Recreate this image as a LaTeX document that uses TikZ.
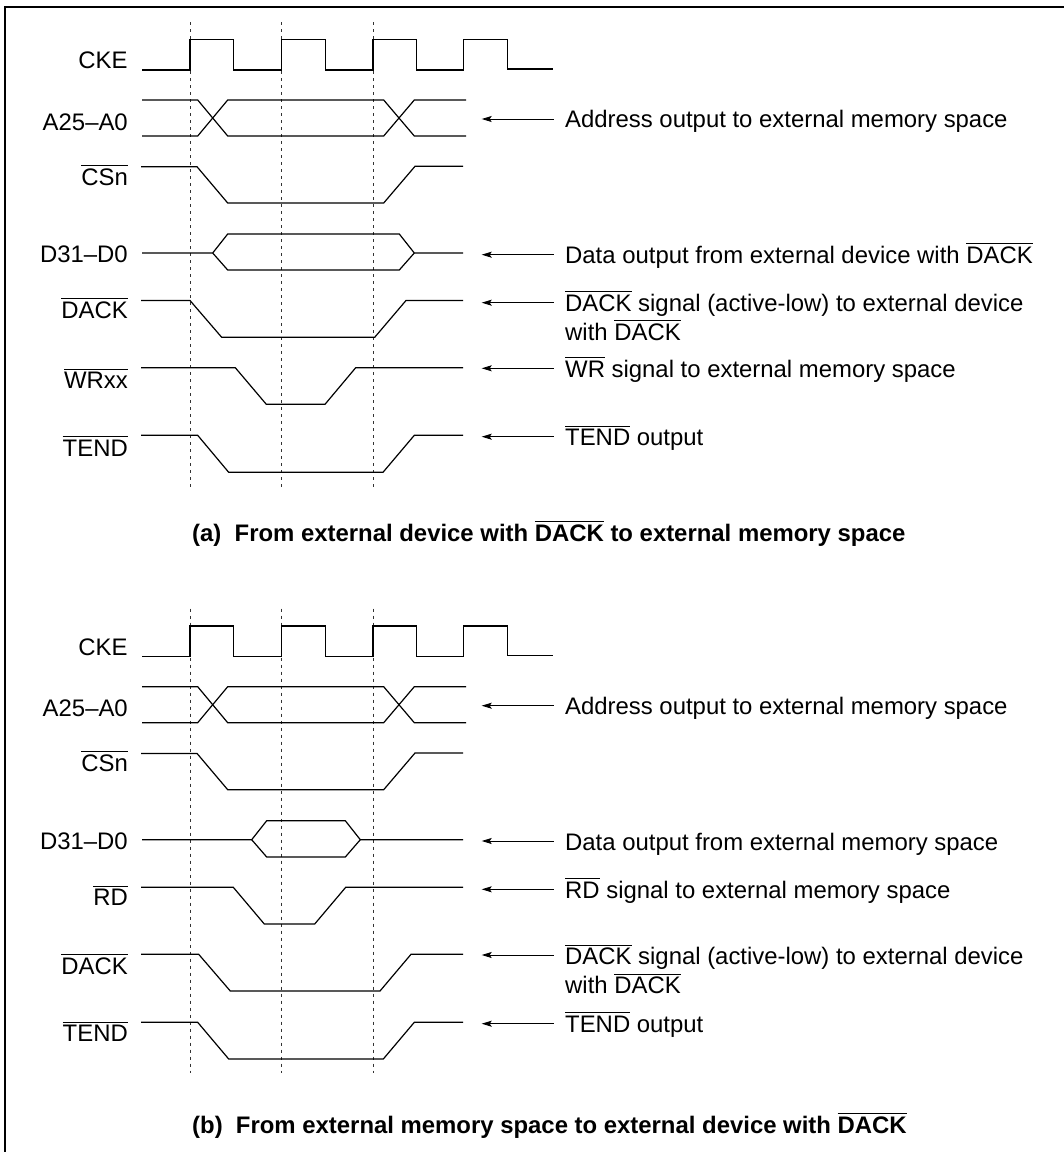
\documentclass[tikz,border=0pt]{standalone}
\usepackage{fontspec}
\setmainfont{Liberation Sans}
\usetikzlibrary{arrows.meta}
\newcommand{\ovl}[1]{\leavevmode\vbox{\hrule height 1pt \kern 2.6pt \hbox{#1}}}
\begin{document}
\begin{tikzpicture}[x=1pt, y=-1pt, >={Stealth[length=10pt,width=6pt,inset=2pt]},
      wave/.style={line width=1.2pt, line join=miter},
      guide/.style={line width=0.9pt, dash pattern=on 3pt off 4pt, black!80},
      pointer/.style={<-, line width=0.9pt, shorten >=11.5pt},
      sig/.style={anchor=base east, inner sep=0pt, font=\fontsize{23.9}{29}\selectfont},
      note/.style={anchor=base west, inner sep=0pt, align=left, font=\fontsize{23.9}{29}\selectfont},
      caption/.style={anchor=base west, inner sep=0pt, font=\fontsize{23.9}{29}\selectfont\bfseries}]
    \useasboundingbox (0,0) rectangle (1064,1152);
    \draw[line width=2pt] (5,1152) -- (5,6.5) -- (1064,6.5);

    % parts (a) and (b) share the clock, address and chip select rows
    \foreach \yo/\p in {0/a,586.7/b} {
      \begin{scope}[shift={(0,\yo)}]
        \foreach \gx in {190,281.7,373} {
          \draw[guide] (\gx,22) -- (\gx,486.7);
        }
        \draw[wave] (142,70) -- (190,70) -- (190,39.3) -- (233.7,39.3) -- (233.7,70) -- (281.3,70)
          -- (281.3,39.3) -- (325.7,39.3) -- (325.7,70) -- (373,70) -- (373,39.3) -- (416.3,39.3)
          -- (416.3,70) -- (463.3,70) -- (463.3,39.3) -- (507.7,39.3) -- (507.7,69) -- (553.3,69);
        \draw[wave] (142,100) -- (197.7,100) -- (227.7,136) -- (383.7,136) -- (414.3,100) -- (466,100);
        \draw[wave] (142,136) -- (197.7,136) -- (227.7,100) -- (383.7,100) -- (414.3,136) -- (466,136);
        \draw[wave] (141,166.7) -- (197,166.7) -- (227.7,203) -- (383.7,203) -- (415,166.3) -- (463,166.3);
        \node[sig] (cke\p) at (127.7,68.3) {CKE};
        \node[sig] (addr\p) at (128,130) {A25–A0};
        \node[sig] (cs\p) at (128,185) {\ovl{CSn}};
        \coordinate (tipaddr\p) at (481.7,119);
        \node[note] (lbladdr\p) at (565,127.3) {Address output to external memory space};
        \draw[pointer] (tipaddr\p) -- (tipaddr\p -| lbladdr\p.west);
      \end{scope}
    }

    % part (a)
    \draw[wave] (142,253) -- (212.7,253) -- (227.7,234) -- (399.3,234) -- (414.3,253) -- (463,253);
    \draw[wave] (212.7,253) -- (227.7,270) -- (399.3,270) -- (414.3,253);
    \draw[wave] (141,300.5) -- (190,300.5) -- (221.7,337.3) -- (374.7,337.3) -- (406,300.5) -- (463,300.5);
    \draw[wave] (141,367.7) -- (235.3,367.7) -- (266.3,404.3) -- (325,404.3) -- (355.7,367.7) -- (463,367.7);
    \draw[wave] (141,435.3) -- (197.7,435.3) -- (228.7,472.3) -- (383,472.3) -- (414.3,435.3) -- (463,435.3);
    \node[sig] (dataa) at (128,262) {D31–D0};
    \node[sig] (dacka) at (128,318.7) {\ovl{DACK}};
    \node[sig] (wr) at (128,388.7) {\ovl{WRxx}};
    \node[sig] (tenda) at (128,456) {\ovl{TEND}};
    \coordinate (tipdataa) at (481.7,254.7);
    \coordinate (tipdacka) at (481.7,302.7);
    \coordinate (tipwr) at (481.7,368.3);
    \coordinate (tiptenda) at (481.7,436.7);
    \node[note] (lbldataa) at (565,263.3) {Data output from external device with \ovl{DACK}};
    \node[note, anchor=north west] (lbldacka) at (565,291) {\ovl{DACK} signal (active-low) to external device\\ with \ovl{DACK}};
    \node[note] (lblwr) at (565,377.3) {\ovl{WR} signal to external memory space};
    \node[note] (lbltenda) at (565,445.7) {\ovl{TEND} output};
    \foreach \n in {dataa,dacka,wr,tenda} {
      \draw[pointer] (tip\n) -- (tip\n -| lbl\n.west);
    }
    \node[caption] (capa) at (192,541.7) {(a)\ \ From external device with \ovl{DACK} to external memory space};

    % part (b)
    \draw[wave] (142,839.7) -- (251.7,839.7) -- (266.7,820.7) -- (345.3,820.7) -- (360.3,839.7) -- (463,839.7);
    \draw[wave] (251.7,839.7) -- (266.7,857) -- (345.3,857) -- (360.3,839.7);
    \draw[wave] (141,887.3) -- (233.3,887.3) -- (264.3,924) -- (314.7,924) -- (345.7,887.3) -- (463,887.3);
    \draw[wave] (141,954.3) -- (198.7,954.3) -- (230.3,991) -- (380,991) -- (411,954.3) -- (463,954.3);
    \draw[wave] (141,1022.3) -- (197.7,1022.3) -- (228.7,1059) -- (383.3,1059) -- (414.3,1022.3) -- (463,1022.3);
    \node[sig] (datab) at (128,849) {D31–D0};
    \node[sig] (rd) at (128,905.7) {\ovl{RD}};
    \node[sig] (dackb) at (128,974.7) {\ovl{DACK}};
    \node[sig] (tendb) at (128,1041.7) {\ovl{TEND}};
    \coordinate (tipdatab) at (481.7,841);
    \coordinate (tiprd) at (481.7,889.3);
    \coordinate (tipdackb) at (481.7,955);
    \coordinate (tiptendb) at (481.7,1023.7);
    \node[note] (lbldatab) at (565,850.7) {Data output from external memory space};
    \node[note] (lblrd) at (565,898.3) {\ovl{RD} signal to external memory space};
    \node[note, anchor=north west] (lbldackb) at (565,944.3) {\ovl{DACK} signal (active-low) to external device\\ with \ovl{DACK}};
    \node[note] (lbltendb) at (565,1032.3) {\ovl{TEND} output};
    \foreach \n in {datab,rd,dackb,tendb} {
      \draw[pointer] (tip\n) -- (tip\n -| lbl\n.west);
    }
    \node[caption] (capb) at (192,1133) {(b)\ \ From external memory space to external device with \ovl{DACK}};
  \end{tikzpicture}
\end{document}
